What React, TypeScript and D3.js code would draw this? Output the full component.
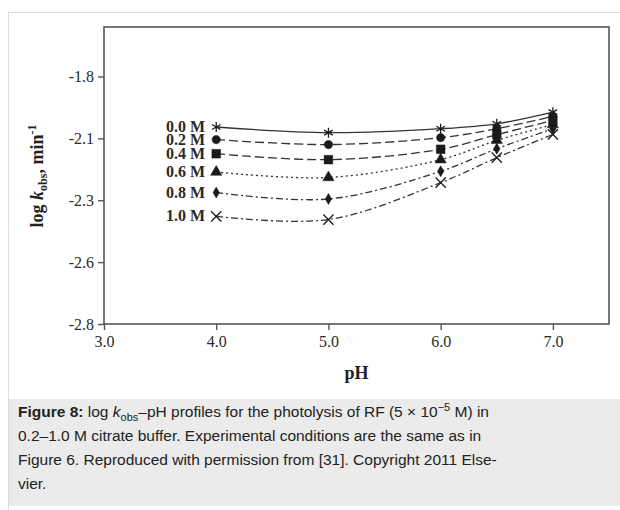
import React, { useEffect, useRef } from "react";
import * as d3 from "d3";

const pH = [4.0, 5.0, 6.0, 6.5, 7.0];
const seriesLabels = ["0.0 M", "0.2 M", "0.4 M", "0.6 M", "0.8 M", "1.0 M"];
const s00 = [-2.004, -2.027, -2.011, -1.991, -1.944];
const s02 = [-2.055, -2.075, -2.047, -2.011, -1.961];
const s04 = [-2.112, -2.136, -2.094, -2.035, -1.977];
const s06 = [-2.186, -2.208, -2.136, -2.058, -1.994];
const s08 = [-2.269, -2.295, -2.183, -2.092, -2.011];
const s10 = [-2.365, -2.378, -2.229, -2.128, -2.034];
const seriesValues = [s00, s02, s04, s06, s08, s10];
const xTicks = [3.0, 4.0, 5.0, 6.0, 7.0];
const yTicks = [-1.8, -2.05, -2.3, -2.55, -2.8];
const yTickLabels = ["-1.8", "-2.1", "-2.3", "-2.6", "-2.8"];

const dashes = ["", "9,4", "9,4", "2,3", "7,3,2,3", "7,3,2,3"];
const symbols = [
  { type: d3.symbolAsterisk, fill: false, size: 70 },
  { type: d3.symbolCircle, fill: true, size: 55 },
  { type: d3.symbolSquare, fill: true, size: 75 },
  { type: d3.symbolTriangle, fill: true, size: 55 },
  { type: d3.symbolDiamond, fill: true, size: 35 },
  { type: d3.symbolTimes, fill: false, size: 70 },
];

export default function App() {
  const ref = useRef<SVGSVGElement>(null);
  useEffect(() => {
    document.body.style.margin = "0";
    const svg = d3.select(ref.current);
    svg.selectAll("*").remove();
    const W = 620, H = 510;
    const m = { left: 104, right: 609, top: 27, bottom: 324 };
    const x = d3.scaleLinear().domain([3, 7.5]).range([m.left, m.right]);
    const y = d3.scaleLinear().domain([-2.8, -1.6]).range([m.bottom, m.top]);

    svg.append("rect").attr("x", 0).attr("y", 0).attr("width", W).attr("height", H).attr("fill", "#fff");
    svg.append("rect").attr("x", 8.5).attr("y", 12.5).attr("width", 630).attr("height", 520)
      .attr("fill", "none").attr("stroke", "#dcdcdc");
    svg.append("rect").attr("x", 9).attr("y", 399).attr("width", 620).attr("height", 107).attr("fill", "#ebebeb");

    const ink = "#333";
    svg.append("rect").attr("x", m.left).attr("y", m.top).attr("width", m.right - m.left)
      .attr("height", m.bottom - m.top).attr("fill", "none").attr("stroke", "#555").attr("stroke-width", 1.6);

    const serif = "'Liberation Serif', 'Times New Roman', serif";
    const gx = svg.append("g").attr("transform", `translate(0,${m.bottom})`)
      .call(d3.axisBottom(x).tickValues(xTicks).tickFormat(d3.format(".1f")).tickSize(6).tickPadding(6));
    gx.select(".domain").remove();
    gx.selectAll("line").attr("stroke", "#555").attr("stroke-width", 1.4);
    gx.selectAll("text").attr("font-family", serif).attr("font-size", 16).attr("fill", "#2a2a2a");

    const gy = svg.append("g").attr("transform", `translate(${m.left},0)`)
      .call(d3.axisLeft(y).tickValues(yTicks).tickFormat((d, i) => yTickLabels[i]).tickSize(6).tickPadding(4));
    gy.select(".domain").remove();
    gy.selectAll("line").attr("stroke", "#555").attr("stroke-width", 1.4);
    gy.selectAll("text").attr("font-family", serif).attr("font-size", 16).attr("fill", "#2a2a2a");

    svg.append("text").attr("x", (m.left + m.right) / 2).attr("y", 379).attr("text-anchor", "middle")
      .attr("font-family", serif).attr("font-weight", "bold").attr("font-size", 18).attr("fill", "#222").text("pH");

    const yl = svg.append("text").attr("transform", `translate(43,176) rotate(-90)`).attr("text-anchor", "middle")
      .attr("font-family", serif).attr("font-weight", "bold").attr("font-size", 18).attr("fill", "#222");
    yl.append("tspan").text("log ");
    yl.append("tspan").attr("font-style", "italic").text("k");
    yl.append("tspan").attr("font-size", 12).attr("dy", 4).text("obs");
    yl.append("tspan").attr("dy", -4).text(", min");
    yl.append("tspan").attr("font-size", 12).attr("dy", -7).text("-1");

    const line = d3.line<number>().x((d, i) => x(pH[i])).y((d) => y(d)).curve(d3.curveCatmullRom.alpha(0.5));
    seriesValues.forEach((vals, si) => {
      svg.append("path").attr("d", line(vals)).attr("fill", "none").attr("stroke", ink)
        .attr("stroke-width", 1.3).attr("stroke-dasharray", dashes[si]);
    });
    seriesValues.forEach((vals, si) => {
      const sym = symbols[si];
      const gen = d3.symbol().type(sym.type).size(sym.size);
      vals.forEach((v, i) => {
        svg.append("path").attr("d", gen()).attr("transform", `translate(${x(pH[i])},${y(v)})`)
          .attr("fill", sym.fill ? "#1a1a1a" : "none").attr("stroke", "#1a1a1a").attr("stroke-width", sym.fill ? 0.5 : 1.3);
      });
      svg.append("text").attr("x", x(pH[0]) - 11).attr("y", y(vals[0]) + 5).attr("text-anchor", "end")
        .attr("font-family", serif).attr("font-weight", "bold").attr("font-size", 16).attr("fill", "#2a2a2a")
        .text(seriesLabels[si]);
    });

    const sans = "'Liberation Sans', Arial, sans-serif";
    const fs = 15.5;
    const c1 = svg.append("text").attr("x", 18).attr("y", 417).attr("font-family", sans).attr("font-size", fs).attr("fill", "#222");
    c1.append("tspan").attr("font-weight", "bold").text("Figure 8:");
    c1.append("tspan").text(" log ");
    c1.append("tspan").attr("font-style", "italic").text("k");
    c1.append("tspan").attr("font-size", 11).attr("dy", 4).text("obs");
    c1.append("tspan").attr("dy", -4).text("–pH profiles for the photolysis of RF (5 × 10");
    c1.append("tspan").attr("font-size", 11).attr("dy", -6).text("−5");
    c1.append("tspan").attr("dy", 6).text(" M) in");
    const rest = [
      "0.2–1.0 M citrate buffer. Experimental conditions are the same as in",
      "Figure 6. Reproduced with permission from [31]. Copyright 2011 Else-",
      "vier.",
    ];
    rest.forEach((t, i) => {
      svg.append("text").attr("x", 18).attr("y", 441 + i * 24).attr("font-family", sans)
        .attr("font-size", fs).attr("fill", "#222").text(t);
    });
  }, []);
  return <svg ref={ref} width={620} height={510} style={{ display: "block" }} />;
}
